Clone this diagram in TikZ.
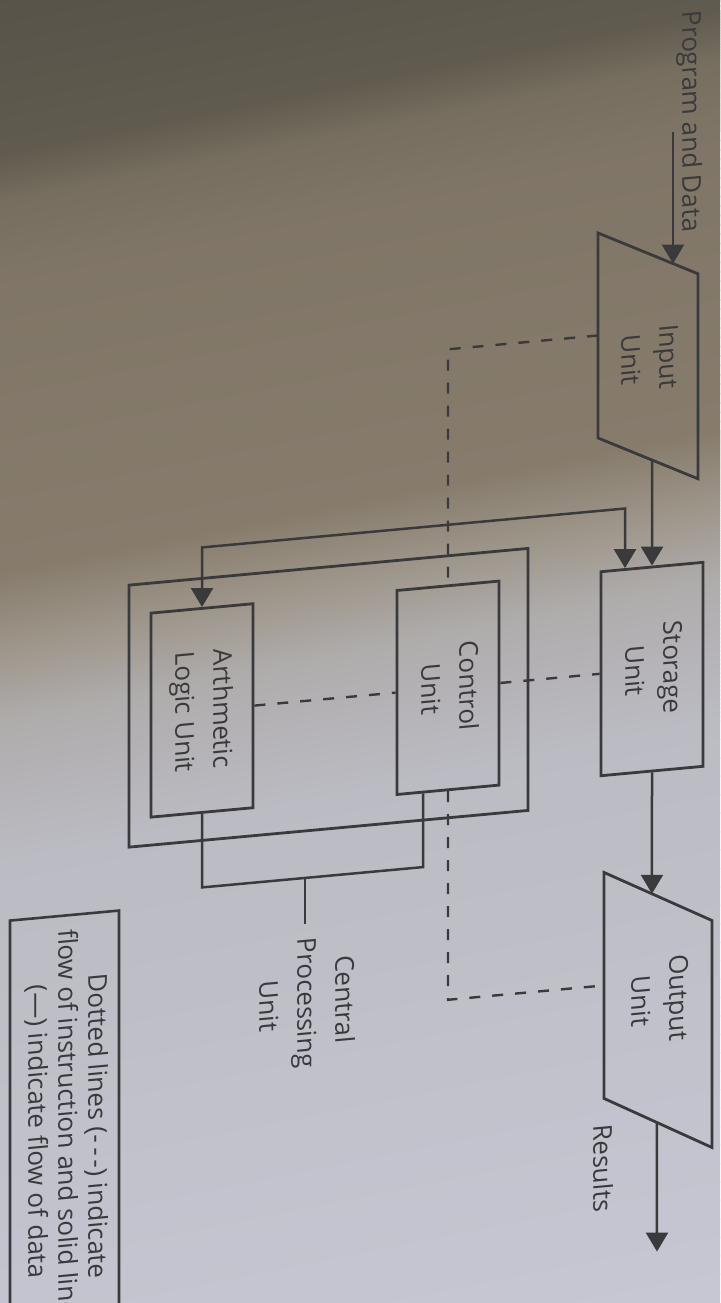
\documentclass[tikz,border=0pt]{standalone}
\usepackage{fontspec}
\setmainfont{Open Sans}
\usepackage{graphicx}
\usetikzlibrary{positioning, arrows.meta, calc}
\definecolor{ink}{HTML}{3A3A3D}
\definecolor{bgA}{HTML}{57534A}
\definecolor{bgB}{HTML}{605B4E}
\definecolor{bgC}{HTML}{766E5F}
\definecolor{bgD}{HTML}{7F7566}
\definecolor{bgE}{HTML}{877C6C}
\definecolor{bgF}{HTML}{9C9488}
\definecolor{bgG}{HTML}{AFACAC}
\definecolor{bgH}{HTML}{BBBBC3}
\definecolor{bgI}{HTML}{C6C7D3}

% text set downwards, lines stacked right to left
\newcommand\vtext[1]{\rotatebox{-90}{\begin{tabular}{@{}c@{}}#1\end{tabular}}}
% slanted band of the photographed page, colour A -> B
\newcommand\paperband[4]{%
  \foreach \i in {0,...,31}{%
    \pgfmathsetmacro\ca{#1+(#2-#1)/32*\i}%
    \pgfmathsetmacro\cb{\ca+(#2-#1)/32+2}%
    \pgfmathtruncatemacro\pc{100-(\i+0.5)*100/32}%
    \fill[#3!\pc!#4] (0,{\ca+144}) -- (720,\ca) -- (720,\cb) -- (0,{\cb+144}) -- cycle;
  }}

\begin{document}
\begin{tikzpicture}[x=1pt, y=-1pt,
    every node/.style={font=\fontsize{26}{38}\selectfont, text=ink, inner sep=3pt},
    unitbox/.style={draw=ink, line width=2.8pt, minimum width=102pt, minimum height=204pt, inner sep=0pt},
    ioshape/.style={draw=ink, line width=2.8pt, line join=miter},
    flow/.style={draw=ink, line width=2.5pt},
    arr/.style={flow, -{Triangle[length=19pt, width=22pt]}},
    biarr/.style={flow, {Triangle[length=19pt, width=22pt]}-{Triangle[length=19pt, width=22pt]}},
    dsh/.style={draw=ink, line width=2.4pt, dash pattern=on 11pt off 12pt}]

  % page
  \useasboundingbox (0,0) rectangle (720,1303);
  \paperband{-150}{10}{bgA}{bgB}
  \paperband{10}{60}{bgB}{bgC}
  \paperband{60}{130}{bgC}{bgD}
  \paperband{130}{430}{bgD}{bgE}
  \paperband{430}{500}{bgE}{bgF}
  \paperband{500}{580}{bgF}{bgG}
  \paperband{580}{720}{bgG}{bgH}
  \paperband{720}{1310}{bgH}{bgI}

  \begin{scope}[cm={1,0.092,0,1,(0,0)}, transform shape]
    % input unit
    \coordinate (inp-tl) at (598,288);
    \coordinate (inp-tr) at (698,338);
    \coordinate (inp-br) at (698,543);
    \coordinate (inp-bl) at (598,493);
    \draw[ioshape] (inp-tl) -- (inp-tr) -- (inp-br) -- (inp-bl) -- cycle;
    \node (inp) at (648,418) {\vtext{Input\\Unit}};

    % output unit
    \coordinate (out-tl) at (604,928);
    \coordinate (out-tr) at (712,986);
    \coordinate (out-br) at (712,1213);
    \coordinate (out-bl) at (604,1154);
    \draw[ioshape] (out-tl) -- (out-tr) -- (out-br) -- (out-bl) -- cycle;
    \node (out) at (658,1060) {\vtext{Output\\Unit}};

    \node[unitbox] (stor) at (652,729) {\vtext{Storage\\Unit}};
    \node[draw=ink, line width=2.8pt, minimum width=399pt, minimum height=262pt] (cpu) at (328.5,728) {};
    \node[unitbox] (ctrl) at (448,729) {\vtext{Control\\Unit}};
    \node[unitbox] (alu) at (202,729) {\vtext{Arthmetic\\Logic Unit}};

    \node (pdlbl) at (690,185) {\vtext{Program and Data}};
    \node (res) at (601,1224) {\vtext{Results}};
    \node[inner ysep=14pt] (cpulbl) at (305,1031) {\vtext{Central\\Processing\\Unit}};

    % data flow
    \coordinate (pdin) at (673,194);
    \draw[arr] (pdin) -- ($(inp-tl)!0.75!(inp-tr)$);
    \draw[arr] ($(inp-bl)!0.54!(inp-br)$) -- (stor.north);
    \coordinate (busR) at (625,566);
    \coordinate (busL) at (202,566);
    \draw[biarr] ($(stor.north)+(-27,0)$) -- (busR) -- (busL) -- (alu.north);
    \draw[arr] (stor.south) -- ($(out-tl)!0.444!(out-tr)$);
    \coordinate (resout) at (657,1312);
    \draw[arr] ($(out-bl)!0.49!(out-br)$) -- (resout);

    % instruction flow
    \coordinate (inp-l) at ($(inp-tl)!0.5!(inp-bl)$);
    \coordinate (ictl) at (448,390.5);
    \draw[dsh] (inp-l) -- (ictl) -- (ctrl.north);
    \draw[dsh] (ctrl.east) -- (stor.west);
    \draw[dsh] (alu.east) -- (ctrl.west);
    \coordinate (octl) at (448,1041);
    \draw[dsh] (ctrl.south) -- (octl) -- ($(out-tl)!0.5!(out-bl)$);

    % cpu bracket
    \coordinate (cpuL) at (202,906);
    \coordinate (cpuR) at (423,906);
    \coordinate (cpuj) at (305,906);
    \draw[flow] (alu.south) -- (cpuL) -- (cpuR) -- ($(ctrl.south)+(-25,0)$);
    \draw[flow] (cpuj) -- (cpulbl.north);

    % key
    \node[draw=ink, line width=2.6pt, minimum width=109pt, minimum height=427pt,
          font=\fontsize{26}{30}\selectfont] (legend) at (64.5,1135)
      {\vtext{Dotted lines (-\,-\,-) indicate\\flow of instruction and solid lines\\(—) indicate flow of data}};
  \end{scope}
\end{tikzpicture}
\end{document}
